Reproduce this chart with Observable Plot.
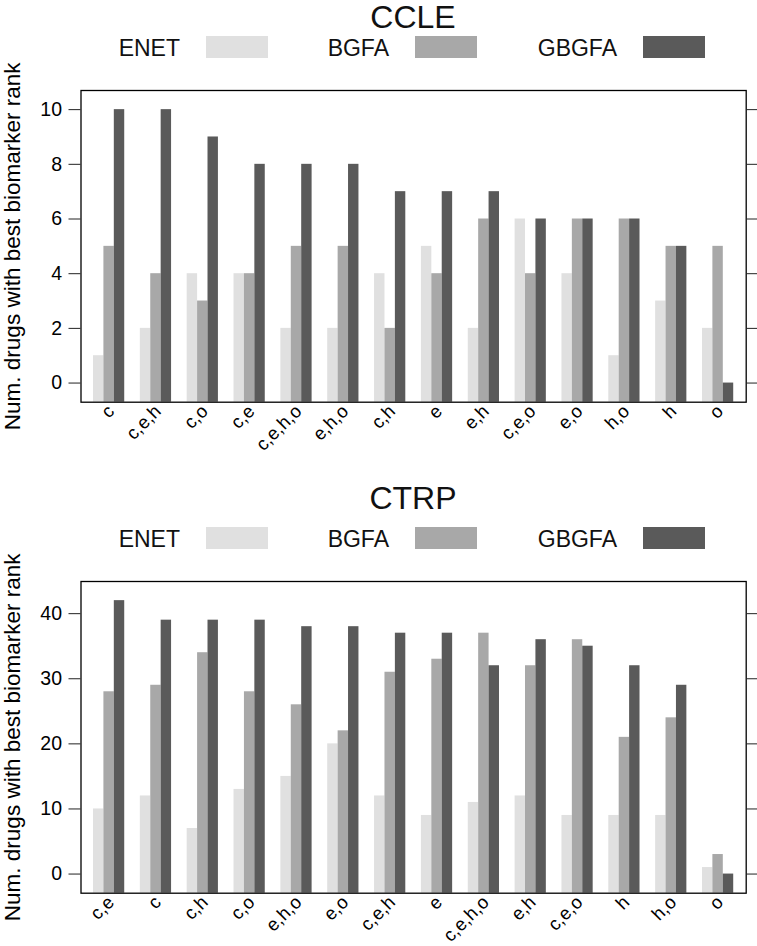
<!DOCTYPE html>
<html><head><meta charset="utf-8">
<script src="https://cdn.jsdelivr.net/npm/d3@7"></script>
<script src="https://cdn.jsdelivr.net/npm/@observablehq/plot@0.6"></script>
<style>
body{margin:0;background:#fff;}
#root{position:relative;width:757px;height:946px;overflow:hidden;font-family:'Liberation Sans',Arial,Helvetica,sans-serif;}
#root > *{position:absolute;left:0;}
</style></head><body><div id="root"></div>
<script>
const methods = ["ENET", "BGFA", "GBGFA"];
const methodColors = ["#e0e0e0", "#a8a8a8", "#5a5a5a"];

const ccleCategories = ["c", "c,e,h", "c,o", "c,e", "c,e,h,o", "e,h,o", "c,h", "e", "e,h", "c,e,o", "e,o", "h,o", "h", "o"];
const ccleENET  = [1, 2, 4, 4, 2, 2, 4, 5, 2, 6, 4, 1, 3, 2];
const ccleBGFA  = [5, 4, 3, 4, 5, 5, 2, 4, 6, 4, 6, 6, 5, 5];
const ccleGBGFA = [10, 10, 9, 8, 8, 8, 7, 7, 7, 6, 6, 6, 5, 0];
const ccleTicks = [0, 2, 4, 6, 8, 10];

const ctrpCategories = ["c,e", "c", "c,h", "c,o", "e,h,o", "e,o", "c,e,h", "e", "c,e,h,o", "e,h", "c,e,o", "h", "h,o", "o"];
const ctrpENET  = [10, 12, 7, 13, 15, 20, 12, 9, 11, 12, 9, 9, 9, 1];
const ctrpBGFA  = [28, 29, 34, 28, 26, 22, 31, 33, 37, 32, 36, 21, 24, 3];
const ctrpGBGFA = [42, 39, 39, 39, 38, 38, 37, 37, 32, 36, 35, 32, 29, 0];
const ctrpTicks = [0, 10, 20, 30, 40];

const yLabel = "Num. drugs with best biomarker rank";
const titles = ["CCLE", "CTRP"];

const root = document.getElementById("root");
const FONT = "'Liberation Sans', Arial, Helvetica, sans-serif";

function panel(cats, series, ticks, opts) {
  const rows = [];
  cats.forEach((c, i) => series.forEach((s, k) => rows.push({cat: c, idx: i + 1, k, method: methods[k], value: s[i]})));
  const maxV = d3.max(rows, d => d.value);
  const lo = -0.07 * maxV, hi = 1.07 * maxV;
  const bw = (2 / 3) / 3;
  const n = cats.length;
  return Plot.plot({
    width: 757,
    height: opts.height,
    marginTop: opts.marginTop,
    marginBottom: opts.marginBottom,
    marginLeft: 80.5,
    marginRight: 11.3,
    style: {fontFamily: FONT, fontSize: "18px", color: "#000", background: "transparent", overflow: "visible"},
    x: {domain: [0.4, n + 0.6], axis: null},
    y: {domain: [lo, hi], axis: null},
    color: {domain: methods, range: methodColors},
    marks: [
      Plot.rectY(rows, {
        x1: d => d.idx - 1 / 3 + d.k * bw,
        x2: d => d.idx - 1 / 3 + (d.k + 1) * bw,
        y1: lo, y2: "value", fill: "method"
      }),
      Plot.frame({stroke: "#000", strokeWidth: 1.3}),
      Plot.axisY({anchor: "left", ticks, tickSize: 12, tickPadding: 7, fontSize: 19.5, label: null, stroke: "#222"}),
      Plot.axisY({anchor: "right", ticks, tickSize: 12, tickFormat: () => "", label: null, stroke: "#222"}),
      Plot.axisX({anchor: "bottom", ticks: d3.range(1, n + 1), tickFormat: i => cats[i - 1], tickSize: 0, tickPadding: 6, tickRotate: -45, fontSize: 18.5, dx: 2, label: null}),
      Plot.text([yLabel], {frameAnchor: "left", dx: -68, rotate: -90, textAnchor: "middle", fontSize: 22.5, fill: "#000"})
    ]
  });
}

const p1 = panel(ccleCategories, [ccleENET, ccleBGFA, ccleGBGFA], ccleTicks, {height: 420, marginTop: 30, marginBottom: 78.3});
p1.style.top = "60px";
root.appendChild(p1);

const p2 = panel(ctrpCategories, [ctrpENET, ctrpBGFA, ctrpGBGFA], ctrpTicks, {height: 386, marginTop: 21, marginBottom: 53.3});
p2.style.top = "560px";
root.appendChild(p2);

// Titles and legends (above each panel)
const headerLayout = [
  {titleY: 28, legendTop: 36},
  {titleY: 509, legendTop: 527}
];
const legendRectX = [206, 415, 643];
const svg = d3.select(root).append("svg")
  .attr("width", 757).attr("height", 946)
  .style("top", "0px").style("pointer-events", "none")
  .style("font-family", FONT);
headerLayout.forEach((h, j) => {
  svg.append("text").attr("x", 413).attr("y", h.titleY)
    .attr("text-anchor", "middle").attr("font-size", 32).attr("fill", "#111").text(titles[j]);
  methods.forEach((m, k) => {
    svg.append("rect").attr("x", legendRectX[k]).attr("y", h.legendTop)
      .attr("width", 62).attr("height", 22).attr("fill", methodColors[k]);
    svg.append("text").attr("x", legendRectX[k] - 26).attr("y", h.legendTop + 19.5)
      .attr("text-anchor", "end").attr("font-size", 23).attr("fill", "#111").text(m);
  });
});
</script></body></html>
